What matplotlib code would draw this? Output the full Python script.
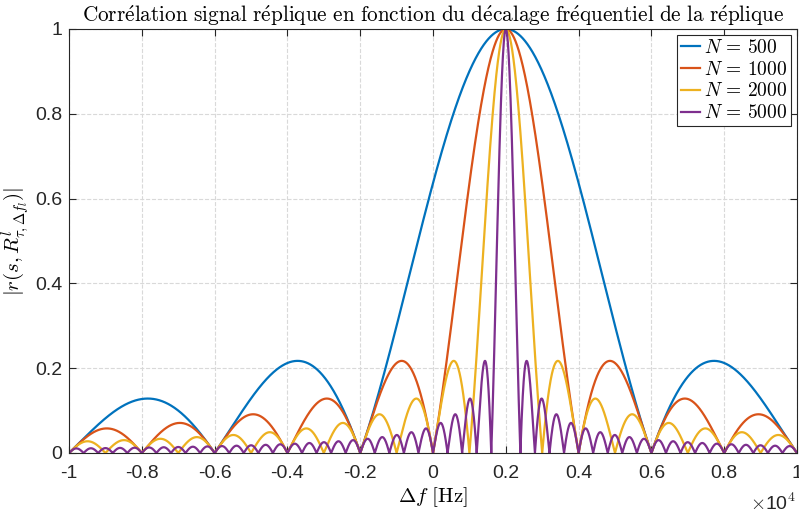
import numpy as np
import matplotlib
matplotlib.use("Agg")
import matplotlib.pyplot as plt

plt.rcParams['mathtext.fontset'] = 'cm'
plt.rcParams['font.family'] = ['Liberation Sans', 'DejaVu Sans']

# parametres
N_values = [500, 1000, 2000, 5000]
labels = [r'$N\,=\,500$', r'$N\,=\,1000$', r'$N\,=\,2000$', r'$N\,=\,5000$']
colors = ['#0072BD', '#D95319', '#EDB120', '#7E2F8E']
f_center = 2000.0      # pic de correlation [Hz]
fs = 2e6               # frequence d'echantillonnage (zeros de N=500 tous les 4000 Hz)
df = np.linspace(-1e4, 1e4, 4001)

xticks = np.arange(-1e4, 1.01e4, 2000)
yticks = [0, 0.2, 0.4, 0.6, 0.8, 1]

fig = plt.figure(figsize=(7.99, 5.17), dpi=100)
ax = fig.add_axes([0.0864, 0.1238, 0.9111, 0.8202])

for N, lab, c in zip(N_values, labels, colors):
    u = np.pi * (df - f_center) / fs
    num = np.sin(N * u)
    den = N * np.sin(u)
    r = np.ones_like(u)
    ok = np.abs(den) > 1e-12
    r[ok] = np.abs(num[ok] / den[ok])
    ax.plot(df, r, color=c, linewidth=1.6, label=lab)

ax.set_xlim(-1e4, 1e4)
ax.set_ylim(0, 1)
ax.set_xticks(xticks)
ax.set_xticklabels(['%g' % (v / 1e4) for v in xticks])
ax.set_yticks(yticks)
ax.set_yticklabels(['%g' % v for v in yticks])
ax.tick_params(direction='in', labelsize=14, top=True, right=True, length=5,
               color='#262626', labelcolor='#262626')
ax.tick_params(axis='x', pad=9)
ax.tick_params(axis='y', pad=5)
for s in ax.spines.values():
    s.set_color('#262626')
    s.set_linewidth(0.8)
ax.grid(True, linestyle='--', color='#d9d9d9', linewidth=0.8)
ax.set_axisbelow(True)

ax.set_title(r'$\mathrm{Corr\acute{e}lation\ signal\ r\acute{e}plique\ en\ fonction\ du\ d\acute{e}calage\ fr\acute{e}quentiel\ de\ la\ r\acute{e}plique}$',
             fontsize=15.3, pad=5)
ax.set_xlabel(r'$\Delta f\ [\mathrm{Hz}]$', fontsize=15, labelpad=2)
ax.set_ylabel(r'$|r(s,R^{l}_{\tau,\Delta f_l})|$', fontsize=15, labelpad=2)
fig.text(0.997, 0.006, r'$\times$10$^4$', ha='right', va='bottom',
         fontsize=14, color='#262626')

leg = ax.legend(loc='upper right', fontsize=14, handlelength=1.0, handletextpad=0.2,
                borderpad=0.2, labelspacing=0.2, fancybox=False, framealpha=1,
                borderaxespad=0.3)
leg.get_frame().set_edgecolor('#262626')
leg.get_frame().set_linewidth(0.8)

fig.savefig('out.png', dpi=100)
